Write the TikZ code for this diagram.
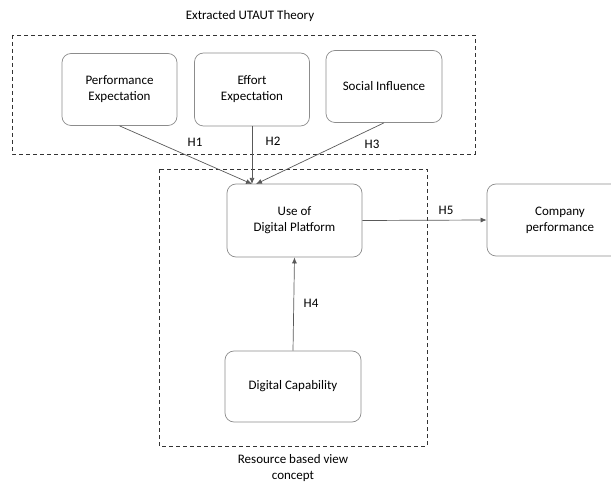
\documentclass[tikz,border=0pt]{standalone}
\usepackage{fontspec}
\setmainfont{Carlito}
\usetikzlibrary{arrows.meta}
\begin{document}
\begin{tikzpicture}[x=1pt,y=-1pt,
  box/.style={draw=black!45, line width=0.7pt, rounded corners=9pt, align=center, font=\fontsize{13}{16}\selectfont, inner sep=0pt},
  grp/.style={draw=black!80, dashed, dash pattern=on 4pt off 3pt, line width=0.7pt},
  arr/.style={draw=black!65, line width=0.7pt, -{Latex[length=6pt,width=5pt]}},
  lbl/.style={font=\fontsize{13}{16}\selectfont, inner sep=0pt}]
\useasboundingbox (0,0) rectangle (611,489);
\begin{scope}
\clip (0,0) rectangle (611,489);
\node[lbl] (title) at (250,16) {Extracted UTAUT Theory};
\draw[grp] (12,35) rectangle (475,154);
\draw[grp] (159,169) rectangle (427,446);
\node[box, minimum width=115pt, minimum height=72pt] (pe) at (119.5,89.5) {Performance\\Expectation};
\node[box, minimum width=115pt, minimum height=73pt] (ee) at (252,89.5) {Effort\\Expectation};
\node[box, minimum width=116pt, minimum height=72pt] (si) at (384,86.5) {Social Influence};
\node[box, minimum width=135pt, minimum height=73pt] (use) at (294.5,220.5) {Use of\\Digital Platform};
\node[box, minimum width=146pt, minimum height=72pt] (cp) at (560,220) {};
\node[lbl, align=center] (cptext) at (560,220) {Company\\performance};
\node[box, minimum width=136pt, minimum height=71pt] (dc) at (293,386.5) {Digital Capability};
\coordinate (in) at (252,184);
\draw[arr] (pe.south) -- (in);
\draw[arr] (ee.south) -- (in);
\draw[arr] (si.south) -- (256,184);
\draw[arr] (use.east) -- (cp.west);
\draw[arr] (dc.north) -- (use.south);
\node[lbl] (h1) at (195,142) {H1};
\node[lbl] (h2) at (273,141) {H2};
\node[lbl] (h3) at (372,144) {H3};
\node[lbl] (h4) at (311,303) {H4};
\node[lbl] (h5) at (446,210) {H5};
\node[lbl, align=center] (rbv) at (293,468) {Resource based view\\concept};
\end{scope}
\end{tikzpicture}
\end{document}
